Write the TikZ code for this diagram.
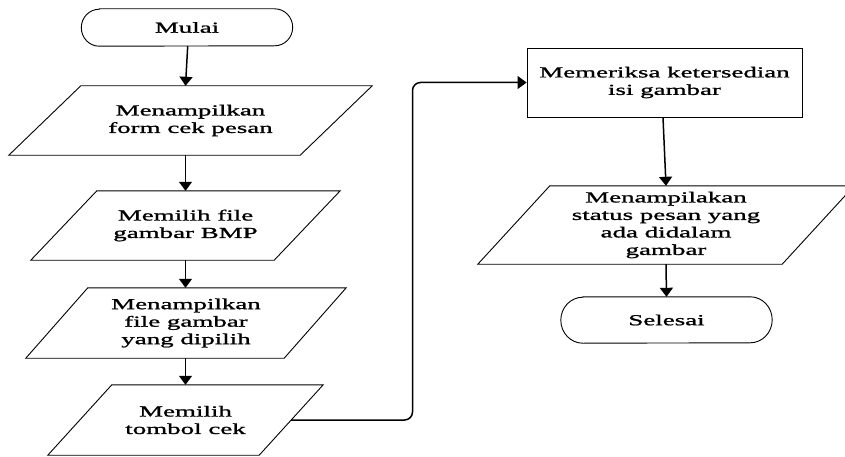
\documentclass[tikz,border=0pt]{standalone}
\usepackage{fontspec}
\setmainfont[FakeStretch=1.76,FakeBold=1.2]{Liberation Serif}
\usetikzlibrary{arrows.meta,calc}

% parallelogram: position, name, edge width, height, slant, text
\newcommand\parabox[6]{%
  \node[label text, minimum width=#3, minimum height=#4] (#2) at #1 {#6};
  \draw[shape line] ([xshift=#5/2]#2.north west) -- ([xshift=#5/2]#2.north east)
    -- ([xshift=-#5/2]#2.south east) -- ([xshift=-#5/2]#2.south west) -- cycle;
}
% terminal with elliptic ends: position, name, width, height, end radius, text
\newcommand\termbox[6]{%
  \node[label text, minimum width=#3, minimum height=#4] (#2) at #1 {#6};
  \draw[shape line] ([xshift=#5]#2.north west) -- ([xshift=-#5]#2.north east)
    arc[start angle=90, end angle=-90, x radius=#5, y radius=#4/2]
    -- ([xshift=#5]#2.south west)
    arc[start angle=270, end angle=90, x radius=#5, y radius=#4/2] -- cycle;
}

\begin{document}
\begin{tikzpicture}[x=1pt,y=1pt,
  label text/.style={inner sep=0pt, align=center,
    font=\fontsize{15.3}{17.5}\selectfont},
  shape line/.style={draw=black, line width=0.9pt},
  process/.style={label text, shape line},
  flow/.style={draw=black, line width=1.5pt,
    -{Triangle[width=13pt,length=9pt]}}]

\fill[white] (0,0) rectangle (845,456);
\useasboundingbox (0,0) rectangle (845,456);

% left column
\termbox{(187,428.5)}{mulai}{211}{37}{18}{Mulai}
\parabox{(190.5,335.5)}{form}{291}{69}{72}{Menampilkan\\form cek pesan}
\parabox{(185.5,230.5)}{file}{243}{69}{66}{Memilih file\\gambar BMP}
\parabox{(186,133)}{shown}{258}{70}{62}{Menampilkan\\file gambar\\yang dipilih}
\parabox{(185.5,36)}{tombol}{211}{70}{64}{Memilih\\tombol cek}

% right column
\node[process, minimum width=275, minimum height=69] (cek) at (664.5,373.5)
  {Memeriksa ketersedian\\isi gambar};
\parabox{(666,231)}{status}{304}{78}{72}{Menampilakan\\status pesan yang\\ada didalam\\gambar}
\termbox{(666.5,136)}{selesai}{211}{46}{22}{Selesai}

% connectors
\draw[flow] ([xshift=0.7pt]mulai.south) -- (form.north -| file.north);
\draw[flow] (form.south -| file.north) -- (file.north);
\draw[flow] (file.south) -- (shown.north -| file.south);
\draw[flow] (shown.south -| file.south) -- (tombol.north -| file.south);
\coordinate (turn) at (412.5,0);
\draw[flow, rounded corners=8pt] (tombol.east) -- (tombol.east -| turn)
  -- (turn |- cek.west) -- (cek.west);
\draw[flow] ([xshift=-1.5pt]cek.south) -- (status.north);
\draw[flow] (status.south) -- (selesai.north);
\end{tikzpicture}
\end{document}
